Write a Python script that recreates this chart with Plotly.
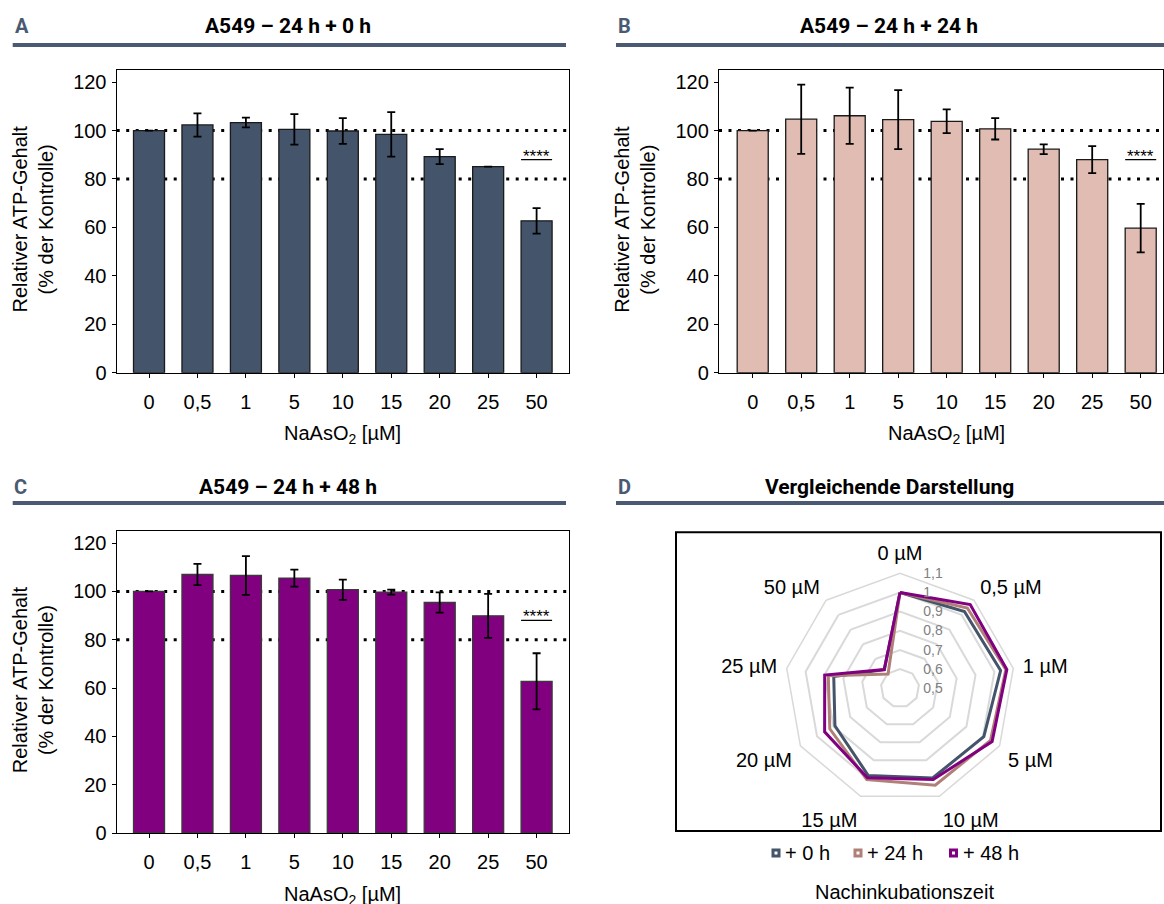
import plotly.graph_objects as go

# ---- data -------------------------------------------------------------
doses = ["0", "0,5", "1", "5", "10", "15", "20", "25", "50"]
radar_labels = [d + " µM" for d in doses]

atp_0h = [100, 102.3, 103.3, 100.5, 99.8, 98.4, 89.2, 85.1, 62.7]
sd_0h = [0, 4.8, 2.0, 6.3, 5.3, 9.2, 3.1, 0, 5.3]

atp_24h = [100, 104.7, 106.1, 104.5, 103.8, 100.7, 92.3, 88.0, 59.7]
sd_24h = [0, 14.3, 11.6, 12.2, 4.9, 4.4, 2.0, 5.6, 10.0]

atp_48h = [100, 107.0, 106.6, 105.5, 100.7, 99.7, 95.4, 89.9, 62.8]
sd_48h = [0, 4.4, 8.0, 3.5, 4.2, 1.0, 4.2, 9.1, 11.6]

series_names = ["+ 0 h", "+ 24 h", "+ 48 h"]
bar_fill = ["#44546a", "#e0bcb2", "#800080"]
bar_edge = ["#1a1a1a", "#1a1a1a", "#3a3a3a"]
line_colors = ["#44546a", "#b08078", "#800080"]

panel_letters = ["A", "B", "C", "D"]
panel_titles = ["A549 – 24 h + 0 h", "A549 – 24 h + 24 h",
                "A549 – 24 h + 48 h", "Vergleichende Darstellung"]
ref_levels = [80, 100]
sig_label = "****"
sig_level = 88
y_ticks = [0, 20, 40, 60, 80, 100, 120]
r_ticks = [0.5, 0.6, 0.7, 0.8, 0.9, 1.0, 1.1]
r_ticktext = ["0,5", "0,6", "0,7", "0,8", "0,9", "1", "1,1"]

# ---- layout helpers -----------------------------------------------------
W, H = 1164, 904
FONT = "Liberation Sans, Arial, sans-serif"
TITLE_FONT = "Roboto, Liberation Sans, sans-serif"
HEAD = "#4a5a72"


def px(x):
    return x / W


def py(y):
    return 1 - y / H


fig = go.Figure()

means = [atp_0h, atp_24h, atp_48h]
sds = [sd_0h, sd_24h, sd_48h]
axis_ids = ["", "2", "3"]
for i in range(3):
    fig.add_trace(go.Bar(
        x=doses, y=means[i],
        error_y=dict(type="data", array=[e if e else None for e in sds[i]],
                     color="black", thickness=1.8, width=4),
        marker=dict(color=bar_fill[i], line=dict(color=bar_edge[i], width=1.3)),
        xaxis="x" + axis_ids[i], yaxis="y" + axis_ids[i],
        showlegend=False, hoverinfo="skip",
    ))

# radar of the relative means
for i in range(3):
    r = [v / 100 for v in means[i]]
    fig.add_trace(go.Scatterpolar(
        r=r + r[:1], theta=radar_labels + radar_labels[:1],
        mode="lines", line=dict(color=line_colors[i], width=3),
        showlegend=False, hoverinfo="skip",
    ))

# panel geometry (pixels)
frames = {
    "": dict(x=(116.7, 569.3), y=(70, 372.7), xr=[-0.667, 8.675]),
    "2": dict(x=(719, 1163.3), y=(70, 372.7), xr=[-0.695, 8.466]),
    "3": dict(x=(116.7, 569.3), y=(531, 833), xr=[-0.667, 8.675]),
}

axis_common = dict(showline=True, mirror=True, linecolor="black", linewidth=1.4,
                   ticks="outside", tickcolor="black", tickwidth=1.4, ticklen=4,
                   showgrid=False, zeroline=False, automargin=False,
                   tickfont=dict(family=FONT, size=20, color="black"))
layout = dict(
    width=W, height=H, margin=dict(l=0, r=0, t=0, b=0, pad=0), autosize=False,
    paper_bgcolor="white", plot_bgcolor="white",
    bargap=0.36, showlegend=False,
    font=dict(family=FONT, color="black"),
)
for k, f in frames.items():
    layout["xaxis" + k] = dict(axis_common, domain=[px(f["x"][0]), px(f["x"][1])],
                               anchor="y" + k, range=f["xr"], type="category",
                               ticklabelstandoff=7)
    layout["yaxis" + k] = dict(axis_common, domain=[py(f["y"][1]), py(f["y"][0])],
                               anchor="x" + k, range=[0, 125], tickvals=y_ticks,
                               ticklabelstandoff=1)

layout["polar"] = dict(
    domain=dict(x=[px(785), px(1015)], y=[py(803.3), py(573.3)]),
    bgcolor="white", gridshape="linear",
    angularaxis=dict(rotation=90, direction="clockwise", showgrid=False,
                     showline=True, linecolor="#d9d9d9", linewidth=1.5,
                     ticks="outside", ticklen=5, tickcolor="rgba(0,0,0,0)",
                     tickfont=dict(family=FONT, size=20, color="black")),
    radialaxis=dict(range=[0.5, 1.1], tickvals=r_ticks, ticktext=r_ticktext,
                    angle=90, tickangle=90, showline=False,
                    gridcolor="#d9d9d9", gridwidth=1.5,
                    ticks="outside", ticklen=20, tickcolor="rgba(0,0,0,0)",
                    tickfont=dict(family=FONT, size=14, color="#808080")),
)
fig.update_layout(**layout)

shapes = []
ann = []

# panel headers: letter, title and rule
heads = [(13, 26, 288, 45, 12.7, 566), (616, 26, 889, 45, 616, 1164),
         (12, 487, 288, 503, 12.7, 566), (616, 487, 890, 503, 616, 1164)]
for (lx, ly, tx, ry, r0, r1), letter, title in zip(heads, panel_letters, panel_titles):
    ann.append(dict(x=px(lx), y=py(ly), xref="paper", yref="paper", text="<b>" + letter + "</b>",
                    showarrow=False, xanchor="left", yanchor="middle",
                    font=dict(family=TITLE_FONT, size=20, color=HEAD)))
    ann.append(dict(x=px(tx), y=py(ly), xref="paper", yref="paper", text="<b>" + title + "</b>",
                    showarrow=False, xanchor="center", yanchor="middle",
                    font=dict(family=TITLE_FONT, size=21, color="black")))
    shapes.append(dict(type="line", xref="paper", yref="paper", x0=px(r0), x1=px(r1),
                       y0=py(ry), y1=py(ry), line=dict(color=HEAD, width=4)))

# bar panels: reference levels, significance marks, axis titles
for k, f in frames.items():
    for lvl in ref_levels:
        shapes.append(dict(type="line", xref="x" + k + " domain", yref="y" + k,
                           x0=0, x1=1, y0=lvl, y1=lvl, layer="below",
                           line=dict(color="black", width=3, dash="3px,6.5px")))
    shapes.append(dict(type="line", xref="x" + k, yref="y" + k, x0=7.68, x1=8.32,
                       y0=sig_level, y1=sig_level, line=dict(color="black", width=1.2)))
    ann.append(dict(x=8, y=sig_level, xref="x" + k, yref="y" + k, text=sig_label,
                    showarrow=False, yanchor="bottom", yshift=-8,
                    font=dict(family=FONT, size=17, color="black")))
    ycen = (f["y"][0] + f["y"][1]) / 2 - 2.5
    ann.append(dict(x=px(f["x"][0] - 84), y=py(ycen), xref="paper", yref="paper",
                    text="Relativer ATP-Gehalt<br>(% der Kontrolle)", textangle=-90,
                    showarrow=False, xanchor="center", yanchor="middle",
                    font=dict(family=FONT, size=20, color="black")))
    ann.append(dict(x=4, y=py(f["y"][1] + 62), xref="x" + k, yref="paper",
                    text="NaAsO<sub>2</sub> [µM]", showarrow=False,
                    xanchor="center", yanchor="middle",
                    font=dict(family=FONT, size=20, color="black")))

# radar panel frame
shapes.append(dict(type="rect", xref="paper", yref="paper", x0=px(676), x1=px(1161),
                   y0=py(831), y1=py(532.3), line=dict(color="black", width=2)))

# radar legend: outlined keys followed by the series names
key_x = [776, 858, 953.5]
for name, col, kx in zip(series_names, line_colors, key_x):
    shapes.append(dict(type="rect", xref="paper", yref="paper",
                       x0=px(kx - 3), x1=px(kx + 3), y0=py(856), y1=py(850),
                       line=dict(color=col, width=3), fillcolor="white"))
    ann.append(dict(x=px(kx + 7), y=py(853), xref="paper", yref="paper", text=name,
                    showarrow=False, xanchor="left", yanchor="middle",
                    font=dict(family=FONT, size=20, color="black")))
ann.append(dict(x=px(904), y=py(891.5), xref="paper", yref="paper",
                text="Nachinkubationszeit", showarrow=False,
                xanchor="center", yanchor="middle",
                font=dict(family=FONT, size=20, color="black")))

fig.update_layout(shapes=shapes, annotations=ann)
fig.write_html("out.html")
